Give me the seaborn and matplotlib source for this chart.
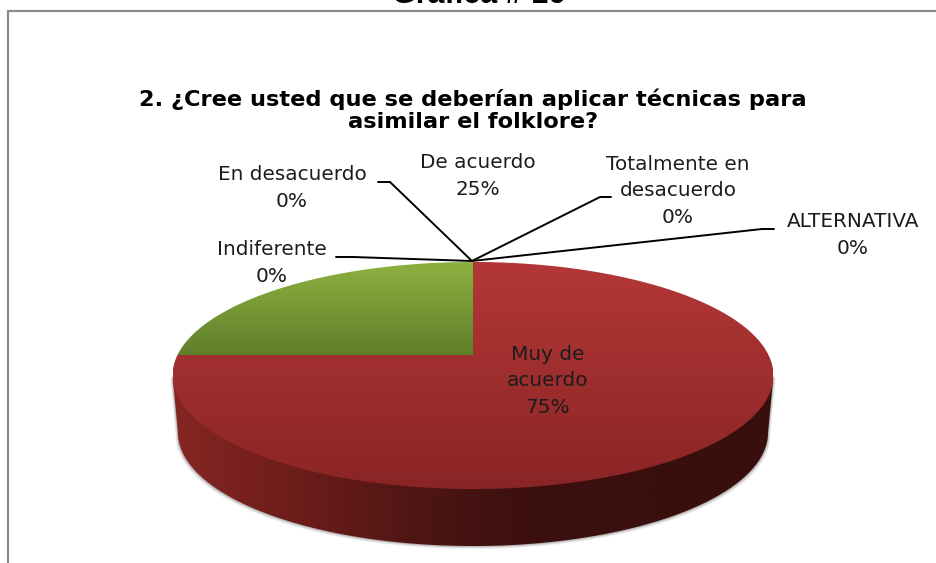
import numpy as np
import matplotlib.pyplot as plt
import seaborn as sns
from matplotlib.patches import Polygon

categories = ['Muy de\nacuerdo', 'De acuerdo', 'Totalmente en\ndesacuerdo', 'ALTERNATIVA', 'En desacuerdo', 'Indiferente']
shares = [75, 25, 0, 0, 0, 0]
chart_title = '2. ¿Cree usted que se deberían aplicar técnicas para\nasimilar el folklore?'
page_heading = 'Gráfica # 16'

sns.set_theme(style='white')
plt.rcParams['font.family'] = ['DejaVu Sans']

fig = plt.figure(figsize=(9.37, 5.63), dpi=100)
ax = fig.add_axes([0, 0, 1, 1])
ax.set_axis_off()


# perspectiva: disco unidad -> pantalla (pixeles)
def project(u, v, scale=1.0, drop=0.0):
    k = 0.1806
    w = 1 + k * v
    x = 473 + scale * 295.5 * u / w
    y = (355 - 45.7 * v) / w + drop
    return x, y


def fill_gradient(verts, colors, box, vertical=True):
    cmap = sns.blend_palette(colors, as_cmap=True)
    grad = np.linspace(0, 1, 256)
    grad = grad.reshape(-1, 1) if vertical else grad.reshape(1, -1)
    im = ax.imshow(grad, cmap=cmap, extent=box, origin='upper', aspect='auto', zorder=2, interpolation='bilinear')
    patch = Polygon(verts, closed=True, transform=ax.transData, fc='none', ec='none')
    ax.add_patch(patch)
    im.set_clip_path(patch)


# angulos de cada porcion, sentido horario desde arriba
edges = np.cumsum([0] + shares) / sum(shares) * 2 * np.pi

# costado: arco inferior entre los puntos mas anchos de cada elipse
t = np.linspace(np.pi * 0.75, np.pi * 2.25, 800)
x_top, y_top = project(np.cos(t), np.sin(t))
x_bot, y_bot = project(np.cos(t), np.sin(t), scale=0.982, drop=57)
i0, i1 = np.argmin(x_bot), np.argmax(x_bot)
j0, j1 = np.argmin(x_top), np.argmax(x_top)
xs_bot, ys_bot = x_bot[i0:i1 + 1], y_bot[i0:i1 + 1]
side = np.column_stack([np.r_[x_top[j0], xs_bot, x_top[j1]], np.r_[y_top[j0], ys_bot, y_top[j1]]])

for grow, alpha in [(5, 0.06), (4, 0.08), (3, 0.1), (2, 0.14), (1, 0.2)]:
    ax.add_patch(Polygon(side + np.column_stack([grow * 0.5 * np.sign(side[:, 0] - 473), np.full(len(side), grow * 0.6)]),
                         closed=True, fc='#555555', ec='none', alpha=alpha, zorder=1))

fill_gradient(side, ['#852622', '#6e1d1b', '#501614', '#3a0f0e', '#3a0f0e', '#380f0d'], (173, 773, 546, 262), vertical=False)

# cara superior
top_colors = [['#b43737', '#8a2525'], ['#8db140', '#5f7f2a']]
top_boxes = [(173, 773, 489, 262), (173, 473, 355, 262)]
for i in range(2):
    ang = np.linspace(edges[i], edges[i + 1], 300)
    xs, ys = project(np.sin(ang), np.cos(ang))
    cx, cy = project(0.0, 0.0)
    verts = np.column_stack([np.r_[cx, xs], np.r_[cy, ys]])
    fill_gradient(verts, top_colors[i], top_boxes[i])

# etiquetas (posicion del centro del texto y quiebre de la guia)
label_pos = [(548, 381), (478, 176), (678, 191), (853, 235), (292, 188), (272, 263)]
leaders = [None, None, (600, 611, 197), (762, 774, 229), (390, 378, 182), (353, 336, 257)]
apex = (472, 261)
for name, share, pos, lead in zip(categories, shares, label_pos, leaders):
    ax.text(pos[0], pos[1], f'{name}\n{share}%', ha='center', va='center', fontsize=14.4,
            color='#1c1c1c', linespacing=1.52, zorder=4)
    if lead is not None:
        ax.plot([apex[0], lead[0], lead[1]], [apex[1], lead[2], lead[2]], color='black', lw=1.4, zorder=3,
                solid_joinstyle='miter')

ax.text(473, 110, chart_title, ha='center', va='center', fontsize=16.2, fontweight='bold',
        color='black', linespacing=1.12, zorder=4)
ax.text(479, 3, page_heading, ha='center', va='baseline', fontsize=22, fontweight='bold',
        family=['Liberation Sans', 'DejaVu Sans'], color='black', zorder=4)

# marco del grafico
ax.plot([8, 8, 937], [563, 11, 11], color='#8a8a8a', lw=1.6, zorder=3, solid_joinstyle='miter')

ax.set_xlim(0, 937)
ax.set_ylim(563, 0)
fig.savefig('out.png', dpi=100)
